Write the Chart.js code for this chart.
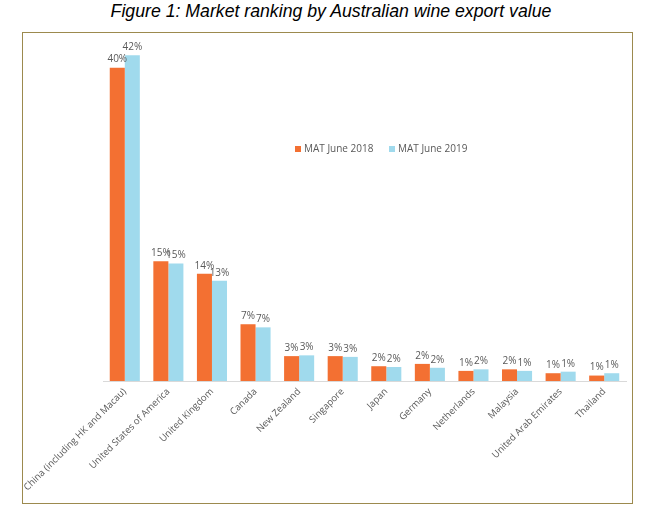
<!DOCTYPE html>
<html>
<head>
<meta charset="utf-8">
<script src="https://cdn.jsdelivr.net/npm/chart.js@4"></script>
<style>
  body { margin: 0; background: #fff; width: 662px; height: 522px; position: relative; }
  #title {
    position: absolute; left: 0; top: 0px; width: 662px; text-align: center;
    font: italic 17.7px "Liberation Sans", Arial, sans-serif; color: #000; line-height: 22px;
  }
  #box {
    position: absolute; left: 22px; top: 32px; width: 609px; height: 470px;
    border: 1px solid #9c8a4e;
  }
</style>
</head>
<body>
<div id="title">Figure 1: Market ranking by Australian wine export value</div>
<div id="box"><canvas id="chart" width="609" height="470"></canvas></div>
<script>
// Categories and series (share of Australian wine export value, %)
const markets = [
    'China (including HK and Macau)', 'United States of America', 'United Kingdom',
    'Canada', 'New Zealand', 'Singapore', 'Japan', 'Germany', 'Netherlands',
    'Malaysia', 'United Arab Emirates', 'Thailand'
];
const mat2018 = [40.3, 15.4, 13.8, 7.3, 3.2, 3.2, 1.9, 2.2, 1.3, 1.5, 1.0, 0.7];
const mat2019 = [41.9, 15.1, 12.9, 6.9, 3.3, 3.1, 1.8, 1.7, 1.5, 1.3, 1.2, 1.0];
const seriesNames = ['MAT June 2018', 'MAT June 2019'];

const orange = '#f37032';
const blue = '#a0daed';
const textGrey = '#595959';
const labelFont = '10px "Open Sans", sans-serif';

// Percent labels above every bar
const barLabels = {
    id: 'barLabels',
    afterDatasetsDraw(chart) {
        const ctx = chart.ctx;
        ctx.save();
        ctx.font = labelFont;
        ctx.fillStyle = textGrey;
        ctx.textAlign = 'center';
        ctx.textBaseline = 'bottom';
        chart.data.datasets.forEach((ds, i) => {
            chart.getDatasetMeta(i).data.forEach((bar, j) => {
                ctx.fillText(Math.round(ds.data[j]) + '%', bar.x, bar.y - 3);
            });
        });
        ctx.restore();
    }
};

// Legend drawn inside the plot, as in the original
const innerLegend = {
    id: 'innerLegend',
    afterDraw(chart) {
        const ctx = chart.ctx;
        const y = 116;
        let x = 272;
        ctx.save();
        ctx.font = labelFont;
        ctx.textBaseline = 'middle';
        chart.data.datasets.forEach(ds => {
            ctx.fillStyle = ds.backgroundColor;
            ctx.fillRect(x, y - 3, 6, 6);
            ctx.fillStyle = textGrey;
            ctx.fillText(ds.label, x + 9, y);
            x += 94;
        });
        ctx.restore();
    }
};

new Chart(document.getElementById('chart'), {
    type: 'bar',
    data: {
        labels: markets,
        datasets: [
            { label: seriesNames[0], data: mat2018, backgroundColor: orange },
            { label: seriesNames[1], data: mat2019, backgroundColor: blue }
        ]
    },
    options: {
        responsive: false,
        animation: false,
        categoryPercentage: 0.69,
        barPercentage: 1,
        layout: { padding: { left: 80, right: 6, top: 2, bottom: 0 } },
        plugins: {
            legend: { display: false },
            tooltip: { enabled: false }
        },
        scales: {
            x: {
                grid: { display: false, drawTicks: false },
                border: { color: '#d9d9d9', width: 1 },
                ticks: {
                    color: textGrey,
                    font: { family: '"Open Sans", sans-serif', size: 9.5 },
                    minRotation: 45,
                    maxRotation: 45,
                    autoSkip: false,
                    padding: 5
                },
                afterFit(scale) {
                    scale.height = 122;
                    scale.paddingLeft = 0;
                    scale.paddingRight = 0;
                }
            },
            y: {
                display: false,
                min: 0,
                max: 44.5
            }
        }
    },
    plugins: [barLabels, innerLegend]
});
</script>
</body>
</html>
